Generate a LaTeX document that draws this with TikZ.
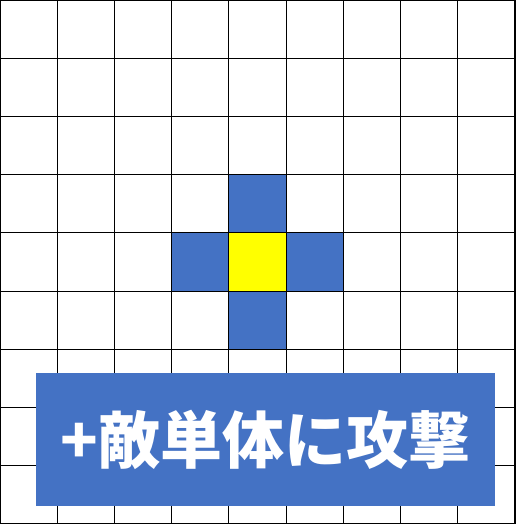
\documentclass[tikz,border=0pt]{standalone}
\usepackage{fontspec}
\newfontfamily\jpfont{Noto Sans CJK JP}
\usepackage{tikz}
\usetikzlibrary{positioning}

\begin{document}
\begin{tikzpicture}
	[x=57.22pt,y=-58.22pt,
	cell/.style={rectangle,draw=black,line width=1.1pt,minimum width=57.22pt,minimum height=58.22pt,inner sep=0pt},
	hit/.style={cell,fill={rgb,255:red,68;green,114;blue,196}},
	centre/.style={cell,fill={rgb,255:red,255;green,255;blue,0}},
	font=\jpfont]
	\useasboundingbox (0,0) rectangle (9,9);
	%GRID
	\foreach \x in {0,...,8}
	\foreach \y in {0,...,8}
	\node[cell] (c\x-\y) at (\x+0.5,\y+0.5) {};
	%RANGE
	\foreach \x/\y in {4/3,3/4,5/4,4/5}
	\node[hit] (h\x-\y) at (\x+0.5,\y+0.5) {};
	\node[centre] (me) at (4.5,4.5) {};
	\draw[line width=4pt] (c0-0.north west) rectangle (c8-8.south east);
	%LABEL
	\node[rectangle,fill={rgb,255:red,68;green,114;blue,196},minimum width=459pt,minimum height=133pt,
	text=white,font=\jpfont\bfseries\fontsize{62}{62}\selectfont] (tag) at (4.64,7.55) {+敵単体に攻撃};
\end{tikzpicture}
\end{document}
